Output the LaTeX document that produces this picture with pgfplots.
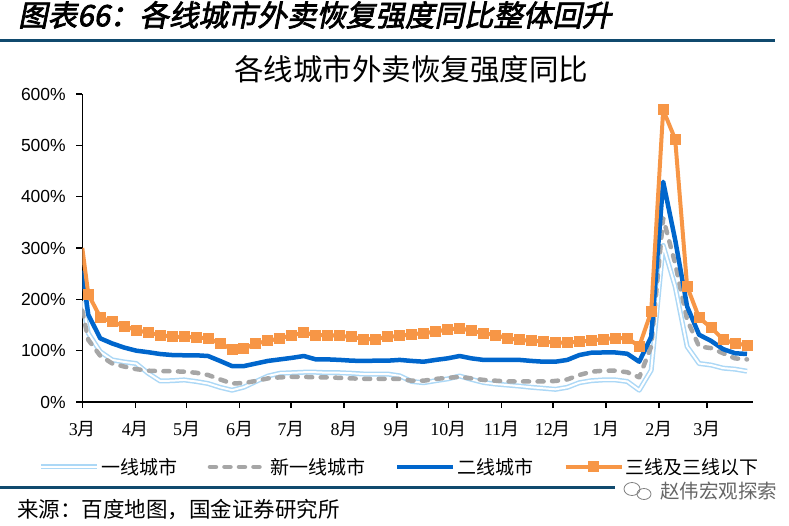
\documentclass[border=0pt]{standalone}
\usepackage{fontspec}
\usepackage{pgfplots}
\pgfplotsset{compat=1.18}
\usepackage{pgfplotstable}
\setmainfont{Liberation Sans}
\newfontfamily\tnr{Liberation Serif}
\newfontfamily\cjk{Noto Sans CJK SC}
\newfontfamily\cjkb{Noto Sans CJK SC}[FakeBold=2.5,FakeSlant=0.2]
\definecolor{lbline}{RGB}{172,216,246}
\definecolor{gline}{RGB}{166,166,166}
\definecolor{bline}{RGB}{0,102,204}
\definecolor{oline}{RGB}{247,150,70}
\definecolor{rulec}{RGB}{16,74,110}
\newcommand{\mo}[1]{{\tnr #1}{\cjk 月}}
\pgfplotstableread{
x lb ng b o
0 197 178 256 300
3.5 134 121 170 210
10.5 98 90 124 165
17.5 82 75 114 156
24.5 78 69 106 148
31.5 75 64 100 140
38.5 56 61 97 135
45.5 41 60 93.5 130.5
52.5 41.5 60 91.5 127
59.5 43 59 91 127
66.5 40 57 91 126
73.5 36 52.6 89.6 124
80.5 28.6 44 80 114
87.5 23 36 70 103
94.5 29 37 70 104
101.5 40 41 75 114
108.5 50.6 46 80 119
115.5 56 48 83 124
122.5 57 49 86 130
129.5 58 49 89.6 135
136.5 58 48 83 130.5
143.5 57 48 83 130.5
150.5 57 47 82 128.6
157.5 56 46 80.5 127
164.5 54.5 45 80 122.7
171.5 54.5 45 80.5 122.7
178.5 54.5 45 80.5 127
185.5 51 45 82 129
192.5 40 41.5 80 132
199.5 37.6 41.5 78.5 134
206.5 41.5 45 82 137
213.5 45 47 85 141.6
220.5 50.6 49 89.6 143.5
227.5 44 46 85 139
234.5 38 43 82 134
241.5 35 41.5 82 130.5
248.5 33 40 82 124
255.5 31 40 82 121
262.5 28.6 40 80 119.5
269.5 26.7 40 78.5 117.5
276.5 24.7 41 78.5 116
283.5 28.6 44 82 115.5
290.5 37.6 52.6 91.5 117.5
297.5 41.5 59 96 119.5
304.5 43 61 96.5 122.7
311.5 43 61 96.5 124
318.5 40 58 94 124.5
325.5 23 48 78.5 108.5
332.5 62 108 127 176
339.5 305 358 429 569
346.5 225 270 316 512
353.5 108 160 186 225
360.5 75 108 131 164
367.5 72 105 119 145
374.5 66 95 103 122
381.5 64 85 95 114
388.5 60 83 93.5 111
}\data
\begin{document}
\begin{tikzpicture}
\useasboundingbox (0pt,0pt) rectangle (789pt,525pt);
% header
\node[anchor=west, inner sep=0pt] at (18pt,510pt) {\cjkb\fontsize{29.5}{32}\selectfont 图表66：各线城市外卖恢复强度同比整体回升};
\draw[rulec, line width=3pt] (0pt,484pt) -- (775pt,484pt);
% chart title
\node[inner sep=0pt] at (411pt,456pt) {\cjk\fontsize{29.5}{32}\selectfont 各线城市外卖恢复强度同比};
\begin{axis}[
  at={(82.3pt,123pt)}, anchor=south west,
  scale only axis, width=670.7pt, height=308pt,
  xmin=0, xmax=392, ymin=0, ymax=600,
  axis x line=bottom, axis y line=left,
  x axis line style={line width=1.8pt,-},
  y axis line style={line width=1pt,-},
  xtick={0,31,61,92,122,153,184,214,245,275,306,337,365},
  xticklabels={\mo{3},\mo{4},\mo{5},\mo{6},\mo{7},\mo{8},\mo{9},\mo{10},\mo{11},\mo{12},\mo{1},\mo{2},\mo{3}},
  ytick={0,100,200,300,400,500,600},
  yticklabel={\fontsize{17.5}{20}\selectfont\pgfmathprintnumber[assume math mode=true]{\tick}\%},
  tick align=outside, major tick length=6pt,
  tick style={black, line width=1.5pt},
  xticklabel style={font=\fontsize{18}{20}\selectfont, yshift=-10pt},
  yticklabel style={font=\fontsize{17.5}{20}\selectfont, xshift=-7pt},
  legend style={at={(0.4733,-0.211)}, anchor=center, draw=none, fill=none,
    font=\cjk\fontsize{19}{21}\selectfont,
    /tikz/every even column/.append style={column sep=28pt}},
  legend columns=4, legend cell align=left,
  legend image code/.code={\draw[#1, mark repeat=2, mark phase=2] plot coordinates {(0pt,0pt) (28pt,0pt) (56pt,0pt)};},
]
\addplot[lbline, line width=1.5pt, double=white, double distance=2pt, line join=round] table[x=x,y=lb]{\data};
\addlegendentry{一线城市}
\addplot[gline, line width=4.5pt, dash pattern=on 6pt off 8.5pt, line cap=round, line join=round] table[x=x,y=ng]{\data};
\addlegendentry{新一线城市}
\addplot[bline, line width=4.5pt, line join=round] table[x=x,y=b]{\data};
\addlegendentry{二线城市}
\addplot[oline, line width=4pt, line join=round, mark=square*, mark size=5pt, mark phase=2, mark repeat=1, mark options={solid, fill=oline, draw=oline, line width=0pt}] table[x=x,y=o]{\data};
\addlegendentry{三线及三线以下}
\end{axis}
\draw[rulec, line width=3pt] (0pt,38pt) -- (775pt,38pt);
\node[anchor=west, inner sep=0pt] at (17pt,15pt) {\cjk\fontsize{21.5}{24}\selectfont 来源：百度地图，国金证券研究所};
\fill[white] (615pt,25pt) rectangle (789pt,50pt);
\draw[gray, line width=0.8pt] (632pt,36pt) ellipse (8pt and 6.5pt);
\draw[gray, line width=0.8pt] (644pt,31pt) ellipse (7pt and 5.5pt);
\node[anchor=west, inner sep=0pt, text=black!60] at (660pt,34pt) {\cjk\fontsize{19.5}{22}\selectfont 赵伟宏观探索};
\end{tikzpicture}
\end{document}
